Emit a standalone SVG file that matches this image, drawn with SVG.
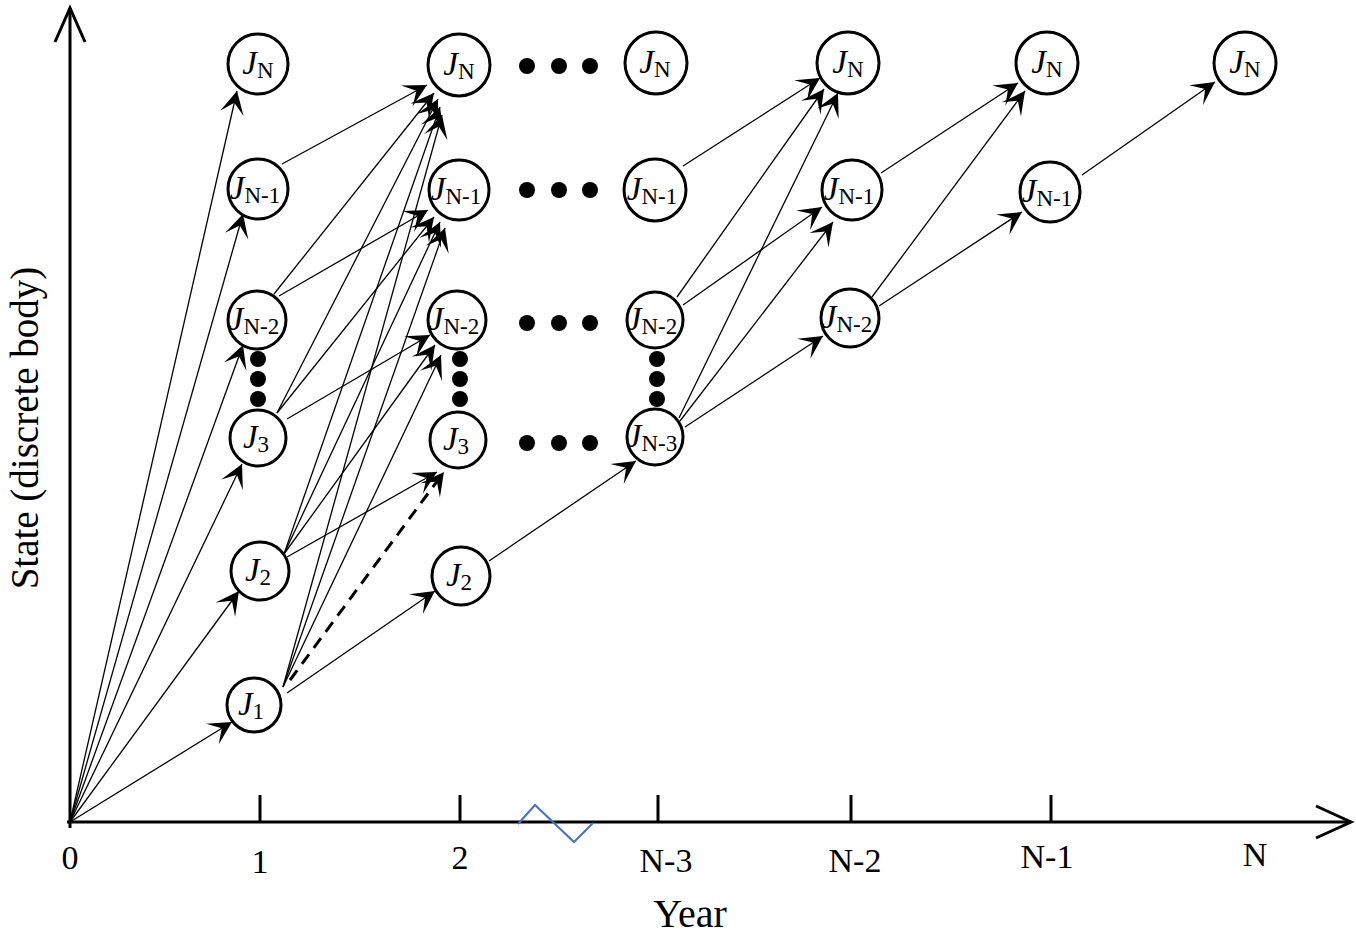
<svg xmlns="http://www.w3.org/2000/svg" width="1356" height="941" viewBox="0 0 1356 941">
<defs>
<style>
.ax{stroke:#000;stroke-width:3;fill:none}
.e{stroke:#000;stroke-width:1.3;fill:none;marker-end:url(#arr)}
.ed{stroke:#000;stroke-width:3;fill:none;stroke-dasharray:12 8;marker-end:url(#arrD)}
.nd{fill:#fff;stroke:#000;stroke-width:3}
.dot{fill:#000}
.t{font-family:"Liberation Serif","Times New Roman",serif;fill:#000}
.j{font-size:33px;font-style:italic}
.s{font-size:23px;font-style:normal}
.lab{font-size:34px}
</style>
<marker id="arr" markerUnits="userSpaceOnUse" viewBox="-25 -14 27 28" markerWidth="27" markerHeight="28" refX="0" refY="0" orient="auto" overflow="visible">
<path d="M0,0 L-23,-12 L-12,0 L-23,12 Z" fill="#000"/>
</marker>
<marker id="arrD" markerUnits="userSpaceOnUse" viewBox="-25 -14 37 28" markerWidth="37" markerHeight="28" refX="0" refY="0" orient="auto" overflow="visible">
<path d="M10,0 L-13,-12 L-2,0 L-13,12 Z" fill="#000"/>
</marker>
</defs>
<rect width="1356" height="941" fill="#fff"/>

<g id="axes">
<line class="ax" x1="70" y1="828" x2="70" y2="8"/>
<polyline class="ax" points="55,42 70,8 85,42"/>
<line class="ax" x1="67" y1="822" x2="1351" y2="822"/>
<polyline class="ax" points="1316,806 1351,822 1316,838"/>
<line class="ax" x1="260" y1="795" x2="260" y2="822"/>
<line class="ax" x1="460" y1="795" x2="460" y2="822"/>
<line class="ax" x1="658" y1="795" x2="658" y2="822"/>
<line class="ax" x1="851" y1="795" x2="851" y2="822"/>
<line class="ax" x1="1051" y1="795" x2="1051" y2="822"/>
<polyline points="518,824 535,805 574,842 593,823" fill="none" stroke="#4472C4" stroke-width="2"/>
<text class="t lab" x="70" y="869" text-anchor="middle">0</text>
<text class="t lab" x="260" y="873" text-anchor="middle">1</text>
<text class="t lab" x="460" y="869" text-anchor="middle">2</text>
<text class="t lab" x="666" y="872" text-anchor="middle">N-3</text>
<text class="t lab" x="855" y="872" text-anchor="middle">N-2</text>
<text class="t lab" x="1047" y="868" text-anchor="middle">N-1</text>
<text class="t lab" x="1255" y="866" text-anchor="middle">N</text>
<text x="690" y="927" text-anchor="middle" font-family="Liberation Serif, Times New Roman, serif" font-size="40">Year</text>
<text transform="translate(38,428) rotate(-90)" text-anchor="middle" font-family="Liberation Serif, Times New Roman, serif" font-size="39">State (discrete body)</text>
</g>

<g id="connectors">
<line class="e" x1="70" y1="822" x2="237" y2="91"/>
<line class="e" x1="70" y1="822" x2="243" y2="214"/>
<line class="e" x1="70" y1="822" x2="243" y2="345"/>
<line class="e" x1="70" y1="822" x2="242" y2="464"/>
<line class="e" x1="70" y1="822" x2="239" y2="591"/>
<line class="e" x1="70" y1="822" x2="232" y2="722"/>

<line class="e" x1="282" y1="164" x2="427" y2="85"/>
<line class="e" x1="274" y1="294" x2="434" y2="93"/>
<line class="e" x1="279" y1="296" x2="428" y2="210"/>
<line class="e" x1="277" y1="413" x2="438" y2="99"/>
<line class="e" x1="277" y1="413" x2="434" y2="217"/>
<line class="e" x1="287" y1="419" x2="430" y2="335"/>
<line class="e" x1="284" y1="554" x2="440" y2="107"/>
<line class="e" x1="284" y1="554" x2="440" y2="222"/>
<line class="e" x1="284" y1="554" x2="435" y2="345"/>
<line class="e" x1="287" y1="557" x2="437" y2="472"/>
<line class="e" x1="283" y1="687" x2="442" y2="115"/>
<line class="e" x1="283" y1="687" x2="445" y2="228"/>
<line class="e" x1="283" y1="687" x2="441" y2="355"/>
<line class="ed" x1="290" y1="680" x2="438" y2="480"/>
<line class="e" x1="287" y1="693" x2="435" y2="591"/>

<line class="e" x1="489" y1="561" x2="636" y2="461"/>

<line class="e" x1="683" y1="166" x2="820" y2="78"/>
<line class="e" x1="677" y1="297" x2="824" y2="89"/>
<line class="e" x1="683" y1="305" x2="822" y2="207"/>
<line class="e" x1="679" y1="418" x2="838" y2="93"/>
<line class="e" x1="680" y1="421" x2="833" y2="222"/>
<line class="e" x1="685" y1="427" x2="823" y2="336"/>

<line class="e" x1="881" y1="173" x2="1018" y2="83"/>
<line class="e" x1="872" y1="297" x2="1025" y2="91"/>
<line class="e" x1="879" y1="306" x2="1022" y2="212"/>
<line class="e" x1="1082" y1="175" x2="1215" y2="82"/>
</g>

<g id="n1_N"><circle class="nd" cx="258" cy="64" r="30"/><text class="t j" x="258" y="74" text-anchor="middle">J<tspan class="s" dy="4">N</tspan></text></g>
<g id="n1_N1"><circle class="nd" cx="258" cy="189" r="30"/><text class="t j" x="255" y="199" text-anchor="middle">J<tspan class="s" dy="4">N-1</tspan></text></g>
<g id="n1_N2"><circle class="nd" cx="257" cy="320" r="29"/><text class="t j" x="254" y="330" text-anchor="middle">J<tspan class="s" dy="4">N-2</tspan></text></g>
<g id="n1_3"><circle class="nd" cx="258" cy="438" r="28"/><text class="t j" x="256" y="448" text-anchor="middle">J<tspan class="s" dy="4">3</tspan></text></g>
<g id="n1_2"><circle class="nd" cx="260" cy="571" r="29"/><text class="t j" x="258" y="581" text-anchor="middle">J<tspan class="s" dy="4">2</tspan></text></g>
<g id="n1_1"><circle class="nd" cx="254" cy="705" r="27"/><text class="t j" x="251" y="715" text-anchor="middle">J<tspan class="s" dy="4">1</tspan></text></g>

<g id="n2_N"><circle class="nd" cx="459" cy="65" r="31"/><text class="t j" x="459" y="75" text-anchor="middle">J<tspan class="s" dy="4">N</tspan></text></g>
<g id="n2_N1"><circle class="nd" cx="459" cy="190" r="30"/><text class="t j" x="456" y="200" text-anchor="middle">J<tspan class="s" dy="4">N-1</tspan></text></g>
<g id="n2_N2"><circle class="nd" cx="457" cy="320" r="29"/><text class="t j" x="454" y="330" text-anchor="middle">J<tspan class="s" dy="4">N-2</tspan></text></g>
<g id="n2_3"><circle class="nd" cx="458" cy="440" r="28"/><text class="t j" x="456" y="450" text-anchor="middle">J<tspan class="s" dy="4">3</tspan></text></g>
<g id="n2_2"><circle class="nd" cx="461" cy="576" r="29"/><text class="t j" x="459" y="586" text-anchor="middle">J<tspan class="s" dy="4">2</tspan></text></g>

<g id="n3_N"><circle class="nd" cx="656" cy="63" r="31"/><text class="t j" x="655" y="73" text-anchor="middle">J<tspan class="s" dy="4">N</tspan></text></g>
<g id="n3_N1"><circle class="nd" cx="655" cy="190" r="31"/><text class="t j" x="652" y="200" text-anchor="middle">J<tspan class="s" dy="4">N-1</tspan></text></g>
<g id="n3_N2"><circle class="nd" cx="655" cy="320" r="28"/><text class="t j" x="652" y="330" text-anchor="middle">J<tspan class="s" dy="4">N-2</tspan></text></g>
<g id="n3_N3"><circle class="nd" cx="655" cy="437" r="28"/><text class="t j" x="652" y="447" text-anchor="middle">J<tspan class="s" dy="4">N-3</tspan></text></g>

<g id="n4_N"><circle class="nd" cx="848" cy="63" r="31"/><text class="t j" x="848" y="73" text-anchor="middle">J<tspan class="s" dy="4">N</tspan></text></g>
<g id="n4_N1"><circle class="nd" cx="852" cy="190" r="30"/><text class="t j" x="849" y="200" text-anchor="middle">J<tspan class="s" dy="4">N-1</tspan></text></g>
<g id="n4_N2"><circle class="nd" cx="850" cy="318" r="29"/><text class="t j" x="847" y="328" text-anchor="middle">J<tspan class="s" dy="4">N-2</tspan></text></g>

<g id="n5_N"><circle class="nd" cx="1047" cy="63" r="31"/><text class="t j" x="1047" y="73" text-anchor="middle">J<tspan class="s" dy="4">N</tspan></text></g>
<g id="n5_N1"><circle class="nd" cx="1050" cy="192" r="30"/><text class="t j" x="1047" y="202" text-anchor="middle">J<tspan class="s" dy="4">N-1</tspan></text></g>

<g id="n6_N"><circle class="nd" cx="1245" cy="63" r="31"/><text class="t j" x="1245" y="73" text-anchor="middle">J<tspan class="s" dy="4">N</tspan></text></g>

<g id="ellipses">
<circle class="dot" cx="258" cy="359" r="8"/><circle class="dot" cx="258" cy="379" r="8"/><circle class="dot" cx="258" cy="399" r="8"/>
<circle class="dot" cx="460" cy="359" r="8"/><circle class="dot" cx="460" cy="379" r="8"/><circle class="dot" cx="460" cy="399" r="8"/>
<circle class="dot" cx="657" cy="359" r="8"/><circle class="dot" cx="657" cy="379" r="8"/><circle class="dot" cx="657" cy="399" r="8"/>
<circle class="dot" cx="527" cy="66" r="8"/><circle class="dot" cx="559" cy="66" r="8"/><circle class="dot" cx="590" cy="66" r="8"/>
<circle class="dot" cx="527" cy="190" r="8"/><circle class="dot" cx="559" cy="190" r="8"/><circle class="dot" cx="590" cy="190" r="8"/>
<circle class="dot" cx="527" cy="323" r="8"/><circle class="dot" cx="559" cy="323" r="8"/><circle class="dot" cx="590" cy="323" r="8"/>
<circle class="dot" cx="527" cy="443" r="8"/><circle class="dot" cx="559" cy="443" r="8"/><circle class="dot" cx="590" cy="443" r="8"/>
</g>
</svg>
